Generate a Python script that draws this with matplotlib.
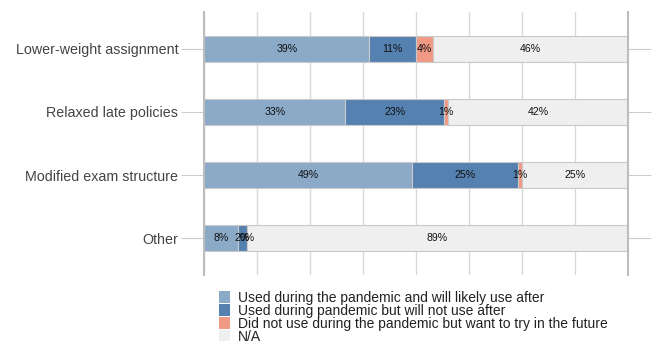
import matplotlib.pyplot as plt
from matplotlib.patches import Patch
import numpy as np

plt.rcParams["font.family"] = ["Liberation Sans", "DejaVu Sans"]

categories = ["Lower-weight assignment", "Relaxed late policies",
              "Modified exam structure", "Other"]
series_names = [
    "Used during the pandemic and will likely use after",
    "Used during pandemic but will not use after",
    "Did not use during the pandemic but want to try in the future",
    "N/A",
]
used_keep = [39, 33, 49, 8]
used_drop = [11, 23, 25, 2]
want_try = [4, 1, 1, 0]
not_applicable = [46, 42, 25, 89]
colors = ["#8aaac8", "#5581b0", "#f09a86", "#efefef"]

fig = plt.figure(figsize=(6.54, 3.41), dpi=100)
ax = fig.add_axes([204 / 654, 1 - 275 / 341, 424 / 654, 263 / 341])

series = [used_keep, used_drop, want_try, not_applicable]
# percentages are rounded, so each row is scaled to fill the full width
totals = np.sum(series, axis=0)
ypos = np.arange(len(categories))
left = np.zeros(len(categories))
for vals, color in zip(series, colors):
    frac = np.array(vals) / totals
    ax.barh(ypos, frac, left=left, height=0.41, color=color,
            edgecolor="#c9c9c9", linewidth=0.8, zorder=2)
    for y, x0, w, v in zip(ypos, left, frac, vals):
        ax.text(x0 + w / 2, y, f"{v}%", ha="center", va="center",
                fontsize=7.6, color="#111111", zorder=3)
    left += frac

ax.set_xlim(0, 1)
ax.set_ylim(3.587, -0.587)
ax.set_xticks(np.arange(0, 1.001, 0.125))
ax.set_xticklabels([])
ax.grid(axis="x", color="#d9d9d9", linewidth=1.0, zorder=0)
ax.set_yticks(ypos)
ax.set_yticklabels(categories, fontsize=10.3, color="#444444")
ax.tick_params(axis="x", length=0)
ax.tick_params(axis="y", length=16.5, width=0.8, color="#cccccc",
               pad=2, right=True)
for side in ["top", "bottom"]:
    ax.spines[side].set_visible(False)
for side in ["left", "right"]:
    ax.spines[side].set_color("#bdbdbd")
    ax.spines[side].set_linewidth(1.5)

handles = [Patch(facecolor=c, edgecolor="none") for c in colors]
fig.legend(handles, series_names, loc="upper left",
           bbox_to_anchor=(212 / 654, 1 - 284 / 341), frameon=False,
           fontsize=10, handlelength=0.82, handleheight=0.94,
           handletextpad=0.54, labelspacing=-0.07, borderpad=0.0,
           labelcolor="#222222")

fig.savefig("out.png", dpi=100)
